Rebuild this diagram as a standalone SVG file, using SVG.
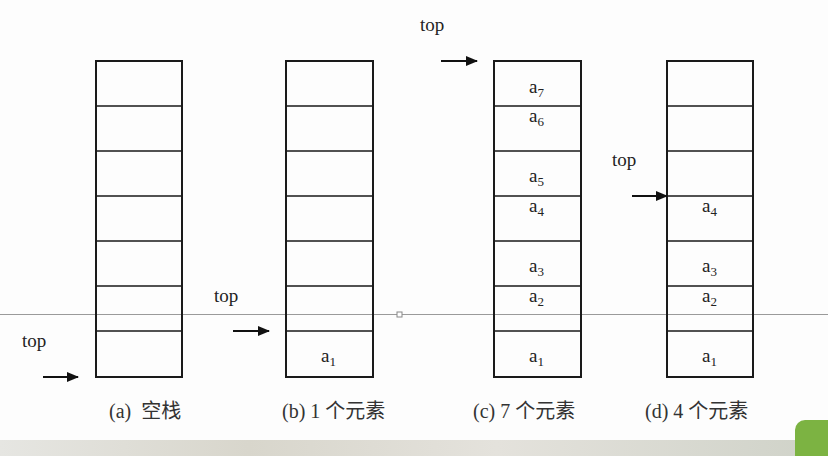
<svg xmlns="http://www.w3.org/2000/svg" width="828" height="456" viewBox="0 0 828 456">
<defs>
<marker id="ah" markerWidth="12" markerHeight="10" refX="11" refY="5" orient="auto" markerUnits="userSpaceOnUse">
<path d="M0,0 L12,5 L0,10 Z" fill="#111"/>
</marker>
<linearGradient id="bot" x1="0" y1="0" x2="1" y2="0">
<stop offset="0" stop-color="#e6e6e2"/>
<stop offset="0.3" stop-color="#d8d6cc"/>
<stop offset="0.6" stop-color="#e4e2dc"/>
<stop offset="1" stop-color="#cfd2c8"/>
</linearGradient>
</defs>
<style>
.cell{fill:none;stroke:#1a1a1a;stroke-width:2}
.sep{stroke:#1a1a1a;stroke-width:1.6}
.t{font-family:"Liberation Serif","Times New Roman",serif;font-size:19px;fill:#222}
.sub{font-size:13px}
.cap{font-family:"Liberation Serif","Noto Sans CJK SC",serif;font-size:20px;fill:#333}
.arr{stroke:#111;stroke-width:2;marker-end:url(#ah)}
</style>
<rect x="0" y="0" width="828" height="456" fill="#fdfdfd"/>
<rect x="0" y="440" width="828" height="16" fill="url(#bot)"/>
<rect x="795" y="420" width="50" height="50" rx="10" fill="#7cb342"/>
<line x1="0" y1="314.5" x2="828" y2="314.5" stroke="#9a9a9a" stroke-width="1"/>
<rect x="397" y="312" width="5" height="5" fill="#fff" stroke="#888" stroke-width="1"/>

<g id="stack-a">
<rect class="cell" x="96" y="61" width="86" height="316"/>
<path class="sep" d="M96,106H182M96,151H182M96,196H182M96,241H182M96,286H182M96,331H182"/>
</g>
<g id="stack-b">
<rect class="cell" x="286" y="61" width="87" height="316"/>
<path class="sep" d="M286,106H373M286,151H373M286,196H373M286,241H373M286,286H373M286,331H373"/>
<text class="t" x="321" y="362">a<tspan class="sub" dy="4">1</tspan></text>
</g>
<g id="stack-c">
<rect class="cell" x="494" y="61" width="87" height="316"/>
<path class="sep" d="M494,106H581M494,151H581M494,196H581M494,241H581M494,286H581M494,331H581"/>
<text class="t" x="529" y="93">a<tspan class="sub" dy="4">7</tspan></text>
<text class="t" x="529" y="122">a<tspan class="sub" dy="4">6</tspan></text>
<text class="t" x="529" y="182">a<tspan class="sub" dy="4">5</tspan></text>
<text class="t" x="529" y="212">a<tspan class="sub" dy="4">4</tspan></text>
<text class="t" x="529" y="272">a<tspan class="sub" dy="4">3</tspan></text>
<text class="t" x="529" y="302">a<tspan class="sub" dy="4">2</tspan></text>
<text class="t" x="529" y="362">a<tspan class="sub" dy="4">1</tspan></text>
</g>
<g id="stack-d">
<rect class="cell" x="667" y="61" width="86" height="316"/>
<path class="sep" d="M667,106H753M667,151H753M667,196H753M667,241H753M667,286H753M667,331H753"/>
<text class="t" x="702" y="212">a<tspan class="sub" dy="4">4</tspan></text>
<text class="t" x="702" y="272">a<tspan class="sub" dy="4">3</tspan></text>
<text class="t" x="702" y="302">a<tspan class="sub" dy="4">2</tspan></text>
<text class="t" x="702" y="362">a<tspan class="sub" dy="4">1</tspan></text>
</g>

<g id="top-labels">
<text class="t" x="22" y="347">top</text>
<text class="t" x="214" y="302">top</text>
<text class="t" x="420" y="31">top</text>
<text class="t" x="612" y="166">top</text>
</g>

<g id="connectors">
<line class="arr" x1="43" y1="377" x2="78" y2="377"/>
<line class="arr" x1="233" y1="331" x2="269" y2="331"/>
<line class="arr" x1="441" y1="61" x2="477" y2="61"/>
<line class="arr" x1="632" y1="196" x2="667" y2="196"/>
</g>

<g id="captions">
<text class="cap" x="109" y="418" xml:space="preserve">(a)  空栈</text>
<text class="cap" x="282" y="418">(b) 1 个元素</text>
<text class="cap" x="473" y="418">(c) 7 个元素</text>
<text class="cap" x="645" y="418">(d) 4 个元素</text>
</g>
</svg>
